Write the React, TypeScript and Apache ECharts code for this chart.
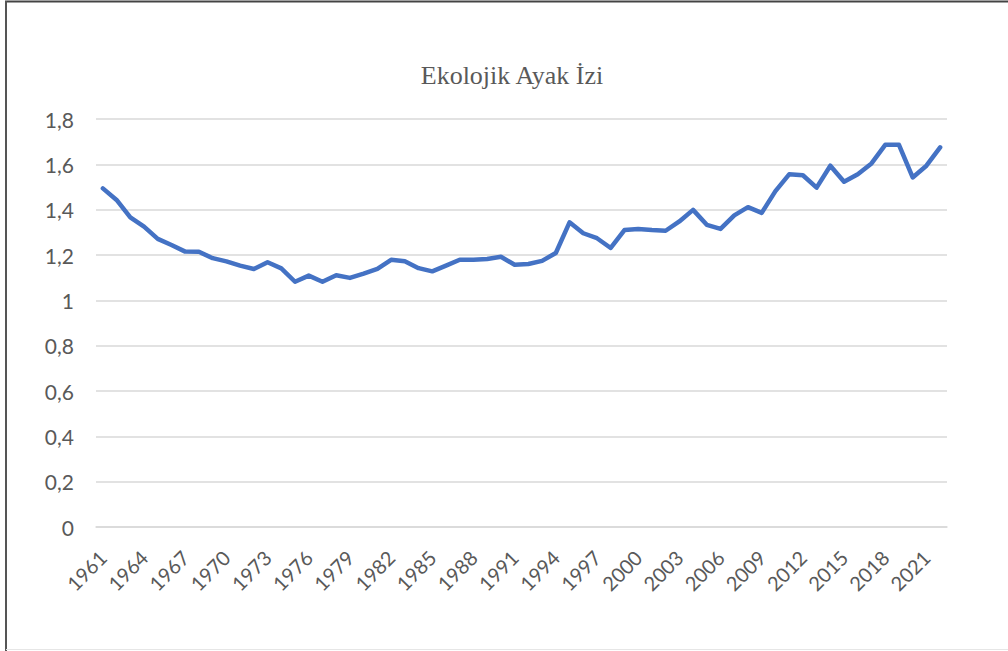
import React, { useEffect, useRef } from "react";
import * as echarts from "echarts";

const years: string[] = [];
for (let y = 1961; y <= 2022; y++) years.push(String(y));

const footprint = [
  1.494, 1.443, 1.366, 1.325, 1.271, 1.244, 1.215, 1.214, 1.186, 1.172,
  1.153, 1.138, 1.168, 1.141, 1.082, 1.109, 1.082, 1.111, 1.099, 1.118,
  1.139, 1.179, 1.172, 1.142, 1.128, 1.153, 1.179, 1.179, 1.182, 1.192,
  1.157, 1.16, 1.174, 1.209, 1.344, 1.296, 1.274, 1.231, 1.31, 1.315,
  1.31, 1.307, 1.348, 1.399, 1.333, 1.315, 1.375, 1.411, 1.386, 1.482,
  1.556, 1.552, 1.497, 1.594, 1.523, 1.556, 1.604, 1.686, 1.686, 1.542,
  1.594, 1.675,
];

const titleText = "Ekolojik Ayak İzi";

export default function App() {
  const ref = useRef<HTMLDivElement>(null);
  useEffect(() => {
    if (!ref.current) return;
    const chart = echarts.init(ref.current, undefined, { renderer: "svg" });
    chart.setOption({
      animation: false,
      backgroundColor: "#ffffff",
      title: {
        text: titleText,
        left: 507,
        top: 57,
        textAlign: "center",
        textStyle: {
          fontFamily: "Liberation Serif",
          fontSize: 26,
          fontWeight: "normal",
          color: "#595959",
        },
      },
      grid: { left: 96, right: 61, top: 119, bottom: 124 },
      xAxis: {
        type: "category",
        data: years,
        boundaryGap: true,
        axisLine: { show: true, lineStyle: { color: "#d9d9d9", width: 1.5 } },
        axisTick: { show: false },
        axisLabel: {
          interval: 2,
          rotate: 45,
          margin: 27,
          fontFamily: "Lato",
          fontSize: 20,
          color: "#595959",
        },
        splitLine: { show: false },
      },
      yAxis: {
        type: "value",
        min: 0,
        max: 1.8,
        interval: 0.2,
        axisLine: { show: false },
        axisTick: { show: false },
        axisLabel: {
          margin: 22,
          fontFamily: "Lato",
          fontSize: 21,
          color: "#595959",
          formatter: (v: number) => String(Number(v.toFixed(1))).replace(".", ","),
        },
        splitLine: { lineStyle: { color: "#d9d9d9", width: 1.5 } },
      },
      series: [
        {
          type: "line",
          data: footprint,
          showSymbol: false,
          symbol: "none",
          lineStyle: { color: "#4472C4", width: 4.5, cap: "round", join: "round" },
        },
      ],
      graphic: [
        { type: "line", shape: { x1: 5, y1: 1.5, x2: 1008, y2: 1.5 }, style: { stroke: "#444444", lineWidth: 2 } },
        { type: "line", shape: { x1: 6, y1: 1, x2: 6, y2: 651 }, style: { stroke: "#555555", lineWidth: 2 } },
        { type: "line", shape: { x1: 6, y1: 649.5, x2: 1008, y2: 649.5 }, style: { stroke: "#e6e6e6", lineWidth: 1 } },
      ],
    });
    return () => chart.dispose();
  }, []);
  return (
    <div
      ref={ref}
      style={{ position: "fixed", left: 0, top: 0, width: 1008, height: 651 }}
    />
  );
}
